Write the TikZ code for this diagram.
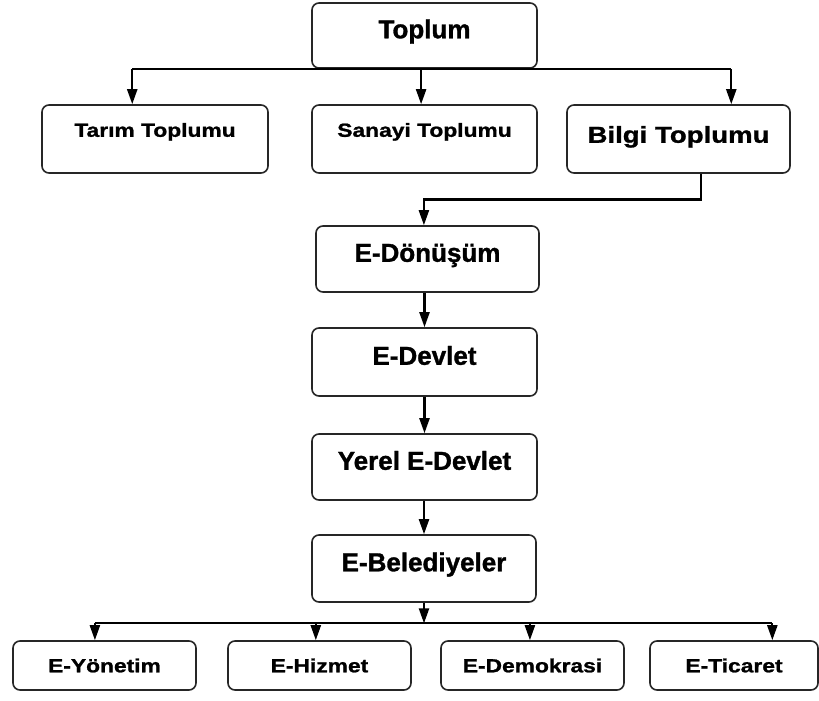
\documentclass[tikz,border=0pt]{standalone}
\usepackage{fontspec}
\setmainfont[FakeBold=1.2]{Liberation Sans}
\newfontfamily\widefont[FakeStretch=1.2, FakeBold=1.2]{Liberation Sans}
\usetikzlibrary{calc}
\usetikzlibrary{arrows.meta}

\begin{document}
\begin{tikzpicture}[
        x=1pt, y=-1pt,
        box/.style={rectangle, draw=black!85, line width=1.6pt, rounded corners=7pt,
            font=\bfseries\fontsize{26}{28}\selectfont, text height=18.6pt, text depth=13pt},
        smallbox/.style={box, font=\widefont\bfseries\fontsize{19}{21}\selectfont,
            text height=13.6pt, text depth=18pt},
        bottombox/.style={smallbox, text depth=0pt},
        link/.style={line width=2.2pt, black},
        arrow/.style={link, -{Triangle[length=15pt, width=10pt]}},
    ]

    \useasboundingbox (0,0) rectangle (819,701);

    % Top levels
    \node[box, minimum width=225pt, minimum height=65pt] (toplum) at (424.5, 35.5) {Toplum};

    \node[smallbox, minimum width=226pt, minimum height=68pt] (tarim) at (155, 139) {Tarım Toplumu};
    \node[smallbox, minimum width=225pt, minimum height=68pt] (sanayi) at (424.5, 139) {Sanayi Toplumu};
    \node[box, font=\widefont\bfseries\fontsize{23}{25}\selectfont, text height=16.5pt, text depth=9pt,
        minimum width=223pt, minimum height=68pt] (bilgi) at (678.5, 139) {Bilgi Toplumu};

    % Middle chain
    \node[box, minimum width=223pt, minimum height=66pt] (edonusum) at (427.5, 259) {E-Dönüşüm};
    \node[box, minimum width=225pt, minimum height=68pt] (edevlet) at (424.5, 362) {E-Devlet};
    \node[box, minimum width=225pt, minimum height=66pt] (yerel) at (424.5, 467) {Yerel E-Devlet};
    \node[box, minimum width=224pt, minimum height=67pt] (ebel) at (424, 568.5) {E-Belediyeler};

    % Bottom level
    \node[bottombox, minimum width=183pt, minimum height=49pt] (yonetim) at (104.5, 665.5) {E-Yönetim};
    \node[bottombox, minimum width=183pt, minimum height=49pt] (hizmet) at (319.5, 665.5) {E-Hizmet};
    \node[bottombox, minimum width=183pt, minimum height=49pt] (demokrasi) at (532.5, 665.5) {E-Demokrasi};
    \node[bottombox, minimum width=168pt, minimum height=49pt] (ticaret) at (734, 665.5) {E-Ticaret};

    % Arrow entry points
    \coordinate (tarimin) at ($(tarim.north west)!.4!(tarim.north east)$);
    \coordinate (sanayiin) at ($(sanayi.north west)!.485!(sanayi.north east)$);
    \coordinate (bilgiin) at ($(bilgi.north west)!.735!(bilgi.north east)$);
    \coordinate (bilgiout) at ($(bilgi.south west)!.6!(bilgi.south east)$);
    \coordinate (donin) at ($(edonusum.north west)!.484!(edonusum.north east)$);
    \coordinate (knee) at ($(bilgi.south)!.5!(edonusum.north)$);
    \coordinate (bus) at ($(ebel.south)!.55!(ebel.south |- yonetim.north)$);
    \coordinate (yonetimin) at ($(yonetim.north west)!.448!(yonetim.north east)$);
    \coordinate (hizmetin) at ($(hizmet.north west)!.48!(hizmet.north east)$);
    \coordinate (demokrasiin) at ($(demokrasi.north west)!.486!(demokrasi.north east)$);
    \coordinate (ticaretin) at ($(ticaret.north west)!.726!(ticaret.north east)$);

    \draw[link] (tarimin |- toplum.south) -- (bilgiin |- toplum.south);
    \draw[arrow] (tarimin |- toplum.south) -- (tarimin);
    \draw[arrow] (sanayiin |- toplum.south) -- (sanayiin);
    \draw[arrow] (bilgiin |- toplum.south) -- (bilgiin);

    \draw[arrow] (bilgiout) |- (knee -| donin) -- (donin);

    \draw[arrow] (edevlet.north |- edonusum.south) -- (edevlet.north);
    \draw[arrow] (edevlet.south) -- (yerel.north);
    \draw[arrow] (ebel.north |- yerel.south) -- (ebel.north);

    \draw[arrow] (ebel.south) -- (bus);
    \draw[link] (yonetimin |- bus) -- (ticaretin |- bus);
    \draw[arrow] (yonetimin |- bus) -- (yonetimin);
    \draw[arrow] (hizmetin |- bus) -- (hizmetin);
    \draw[arrow] (demokrasiin |- bus) -- (demokrasiin);
    \draw[arrow] (ticaretin |- bus) -- (ticaretin);
\end{tikzpicture}
\end{document}
